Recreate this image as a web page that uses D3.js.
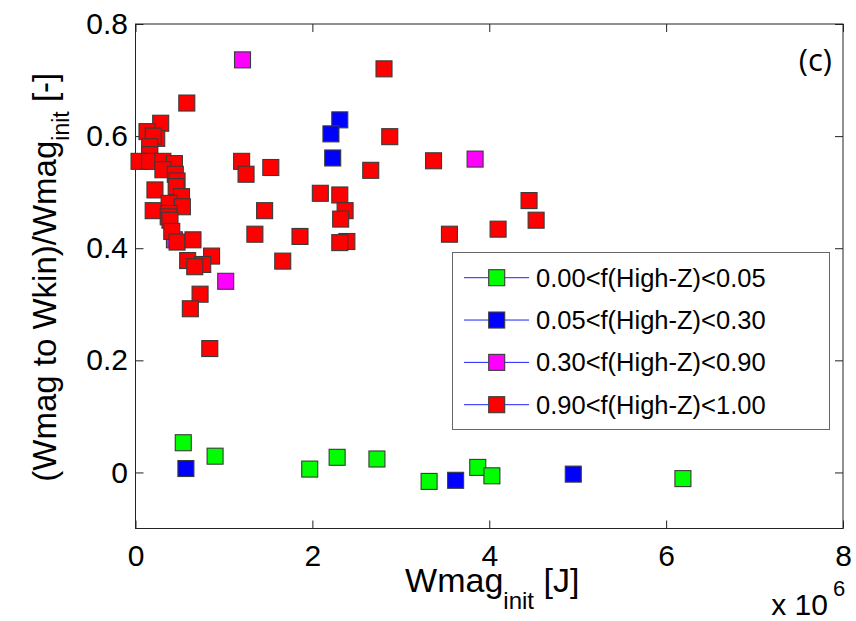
<!DOCTYPE html>
<html>
<head>
<meta charset="utf-8">
<script src="https://cdn.jsdelivr.net/npm/d3@7"></script>
<style>
  html, body { margin: 0; padding: 0; background: #fff; }
  svg { display: block; font-family: "Liberation Sans", Arial, sans-serif; }
</style>
</head>
<body>
<svg id="chart" width="856" height="621"></svg>
<script>
// Wmag_init in units of 1e6 J, ratio (Wmag to Wkin)/Wmag_init
const lowZ = [
  [0.54, 0.053], [0.90, 0.029], [1.97, 0.006], [2.28, 0.027], [2.73, 0.024],
  [3.32, -0.016], [3.87, 0.009], [4.03, -0.006], [6.19, -0.011]
];
const midLowZ = [
  [0.57, 0.007], [3.62, -0.014], [4.95, -0.003],
  [2.31, 0.629], [2.21, 0.604], [2.23, 0.561]
];
const midHighZ = [
  [1.21, 0.736], [3.84, 0.559], [1.02, 0.341], [0.44, 0.415]
];
const highZ = [
  [0.58, 0.659], [0.285, 0.623], [0.24, 0.596], [0.13, 0.608], [0.20, 0.60],
  [0.16, 0.581], [0.16, 0.567], [0.04, 0.555], [0.16, 0.555], [0.31, 0.555],
  [0.44, 0.551], [0.31, 0.54], [0.45, 0.532], [0.47, 0.52], [0.46, 0.51],
  [0.22, 0.504], [0.52, 0.492], [0.38, 0.48], [0.53, 0.474], [0.20, 0.467],
  [0.38, 0.462], [0.37, 0.456], [0.39, 0.45], [0.41, 0.43], [0.47, 0.411],
  [0.65, 0.415], [0.86, 0.386], [0.59, 0.378], [0.76, 0.371], [0.67, 0.367],
  [0.73, 0.318], [0.62, 0.292], [0.84, 0.221],
  [1.20, 0.555], [1.25, 0.532], [1.53, 0.544], [1.46, 0.467], [1.35, 0.425],
  [1.665, 0.377], [1.86, 0.421],
  [2.81, 0.72], [2.875, 0.599], [2.66, 0.539], [2.09, 0.498], [2.31, 0.495],
  [2.37, 0.467], [2.32, 0.452], [2.39, 0.412], [2.31, 0.41],
  [3.37, 0.556], [3.55, 0.425], [4.10, 0.434], [4.45, 0.485], [4.53, 0.45]
];

const seriesNames = [
  "0.00<f(High-Z)<0.05",
  "0.05<f(High-Z)<0.30",
  "0.30<f(High-Z)<0.90",
  "0.90<f(High-Z)<1.00"
];
const seriesColors = ["#00ff00", "#0000ff", "#ff00ff", "#ff0000"];
const seriesData = [lowZ, midLowZ, midHighZ, highZ];

const xTicks = [0, 2, 4, 6, 8];
const yTicks = [0, 0.2, 0.4, 0.6, 0.8];
const yTickLabels = ["0", "0.2", "0.4", "0.6", "0.8"];

const svg = d3.select("#chart");
const plotL = 135.5, plotR = 843, plotT = 24, plotB = 528.5;

const x = d3.scaleLinear().domain([0, 8]).range([plotL, plotR]);
const y = d3.scaleLinear().domain([-0.1, 0.8]).range([plotB, plotT]);

const tickFont = 30;
const tick = 8;

// axes with inward ticks on all four sides
const gx = svg.append("g")
  .attr("transform", `translate(0,${plotB})`)
  .call(d3.axisBottom(x).tickValues(xTicks).tickSizeInner(-tick).tickSizeOuter(0).tickPadding(16));
const gxTop = svg.append("g")
  .attr("transform", `translate(0,${plotT})`)
  .call(d3.axisTop(x).tickValues(xTicks).tickSizeInner(-tick).tickSizeOuter(0).tickFormat(""));
const gy = svg.append("g")
  .attr("transform", `translate(${plotL},0)`)
  .call(d3.axisLeft(y).tickValues(yTicks).tickSizeInner(-tick).tickSizeOuter(0).tickPadding(7.5)
    .tickFormat((d, i) => yTickLabels[i]));
const gyRight = svg.append("g")
  .attr("transform", `translate(${plotR},0)`)
  .call(d3.axisRight(y).tickValues(yTicks).tickSizeInner(-tick).tickSizeOuter(0).tickFormat(""));

[gx, gxTop, gy, gyRight].forEach(g => {
  g.select(".domain").remove();
  g.selectAll(".tick line").attr("stroke", "#222").attr("stroke-width", 1);
  g.selectAll(".tick text")
    .attr("fill", "#000")
    .style("font-family", "'Liberation Sans', Arial, sans-serif")
    .style("font-size", tickFont + "px");
});

// frame
svg.append("rect")
  .attr("x", plotL).attr("y", plotT)
  .attr("width", plotR - plotL).attr("height", plotB - plotT)
  .attr("fill", "none").attr("stroke", "#222").attr("stroke-width", 1);

// markers
const size = 16;
seriesData.forEach((data, k) => {
  svg.append("g")
    .selectAll("rect")
    .data(data)
    .join("rect")
    .attr("x", d => x(d[0]) - size / 2)
    .attr("y", d => y(d[1]) - size / 2)
    .attr("width", size)
    .attr("height", size)
    .attr("fill", seriesColors[k])
    .attr("stroke", "#3a3a3a")
    .attr("stroke-width", 1.1);
});

// legend
const legend = svg.append("g");
legend.append("rect")
  .attr("x", 452.5).attr("y", 252.5)
  .attr("width", 377).attr("height", 177)
  .attr("fill", "#fff").attr("stroke", "#666").attr("stroke-width", 1);

const rowY = d3.scalePoint().domain(seriesNames).range([277.7, 404.7]);
seriesNames.forEach((name, k) => {
  const cy = rowY(name);
  legend.append("line")
    .attr("x1", 464).attr("x2", 529)
    .attr("y1", cy).attr("y2", cy)
    .attr("stroke", "#2020ff").attr("stroke-width", 1);
  legend.append("rect")
    .attr("x", 496.7 - size / 2).attr("y", cy - size / 2)
    .attr("width", size).attr("height", size)
    .attr("fill", seriesColors[k])
    .attr("stroke", "#3a3a3a").attr("stroke-width", 1.1);
  legend.append("text")
    .attr("x", 536).attr("y", cy + 9)
    .style("font-size", "25.5px")
    .text(name);
});

// x axis label
const xl = svg.append("text")
  .attr("x", (plotL + plotR) / 2 + 3).attr("y", 592)
  .attr("text-anchor", "middle")
  .style("font-size", "34px");
xl.append("tspan").text("Wmag");
xl.append("tspan").attr("dy", 17).style("font-size", "24px").text("init");
xl.append("tspan").attr("dy", -17).text(" [J]");

// y axis label
const yl = svg.append("text")
  .attr("transform", `translate(56,${(plotT + plotB) / 2 + 1}) rotate(-90)`)
  .attr("text-anchor", "middle")
  .style("font-size", "33px");
yl.append("tspan").text("(Wmag to Wkin)/Wmag");
yl.append("tspan").attr("dy", 13).style("font-size", "23px").text("init");
yl.append("tspan").attr("dy", -13).text(" [-]");

// exponent
svg.append("text")
  .attr("x", 828).attr("y", 615)
  .attr("text-anchor", "end")
  .style("font-size", "30px")
  .text("x 10");
svg.append("text")
  .attr("x", 833).attr("y", 596)
  .style("font-size", "22px")
  .text("6");

// panel tag
svg.append("text")
  .attr("x", 832).attr("y", 71)
  .attr("text-anchor", "end")
  .style("font-family", "'Open Sans', 'Noto Sans', sans-serif")
  .style("font-size", "31px")
  .text("(c)");
</script>
</body>
</html>
